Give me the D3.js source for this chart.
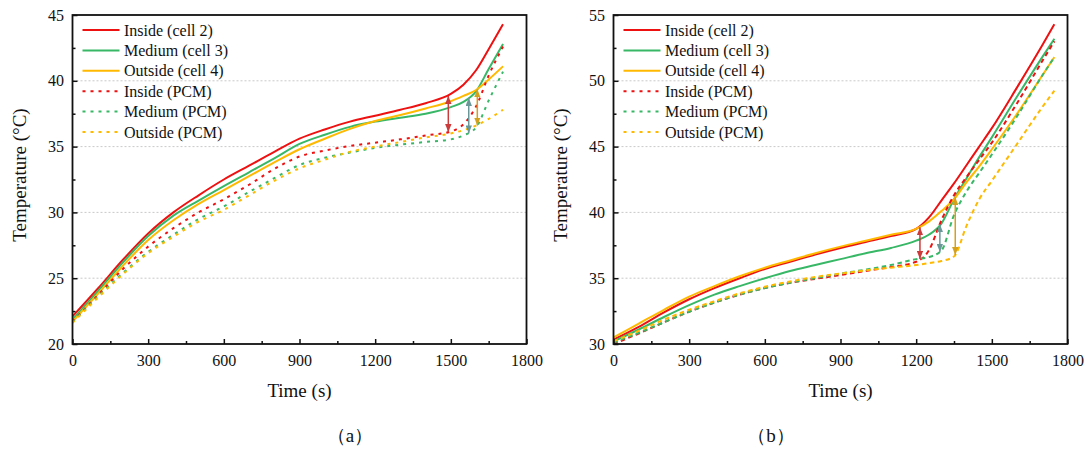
<!DOCTYPE html>
<html>
<head>
<meta charset="utf-8">
<script src="https://cdnjs.cloudflare.com/ajax/libs/d3/7.8.5/d3.min.js"></script>
<style>
body { margin:0; background:#fff; }
svg text { font-family: "Liberation Serif", Tinos, "DejaVu Serif", serif; fill:#111; }
</style>
</head>
<body>
<script>
// panel (a)
var timeA = [0,100,200,300,400,500,600,700,800,900,1000,1100,1200,1300,1400,1500,1550,1600,1650,1707];
var insideCellA  = [22.1,24.2,26.4,28.4,30.0,31.3,32.5,33.55,34.6,35.6,36.3,36.9,37.35,37.8,38.3,39.0,39.7,40.8,42.4,44.3];
var mediumCellA  = [21.85,24.0,26.2,28.2,29.75,30.9,32.0,33.05,34.1,35.2,35.9,36.5,36.9,37.2,37.5,38.0,38.4,39.2,40.9,42.8];
var outsideCellA = [21.7,23.8,25.95,27.9,29.4,30.65,31.7,32.75,33.8,34.8,35.6,36.35,36.95,37.4,37.9,38.45,38.85,39.3,40.1,41.1];
var insidePcmA   = [21.7,23.7,25.7,27.4,28.8,30.0,31.0,32.1,33.3,34.25,34.7,35.05,35.3,35.55,35.85,36.15,36.7,38.05,40.4,42.6];
var mediumPcmA   = [21.65,23.6,25.4,27.0,28.3,29.5,30.45,31.55,32.6,33.6,34.15,34.55,34.9,35.15,35.35,35.55,35.85,36.45,38.5,40.7];
var outsidePcmA  = [21.6,23.5,25.3,26.9,28.15,29.3,30.2,31.3,32.4,33.35,34.0,34.6,35.0,35.35,35.7,36.0,36.25,36.6,37.1,37.8];
var arrowsA = [[1490,38.85,36.1],[1571,38.7,36.0],[1605,39.35,36.6]];

// panel (b)
var timeB = [0,100,200,300,400,500,600,700,800,900,1000,1100,1200,1250,1300,1350,1400,1450,1500,1600,1700,1748];
var insideCellB  = [30.33,31.3,32.4,33.4,34.25,35.0,35.7,36.25,36.8,37.3,37.75,38.2,38.75,39.6,40.9,42.2,43.6,45.0,46.4,49.5,52.7,54.3];
var mediumCellB  = [30.2,31.1,32.05,32.95,33.75,34.4,35.0,35.55,36.0,36.45,36.9,37.3,37.85,38.3,39.15,41.0,42.6,44.2,45.7,48.8,51.8,53.2];
var outsideCellB = [30.5,31.55,32.6,33.6,34.4,35.15,35.8,36.35,36.9,37.4,37.85,38.3,38.75,39.3,40.1,41.0,42.3,43.5,44.8,47.5,50.4,51.8];
var insidePcmB   = [30.0,30.8,31.65,32.45,33.15,33.75,34.25,34.65,34.95,35.25,35.55,35.85,36.25,37.1,39.4,41.3,42.7,44.0,45.3,48.3,51.5,53.0];
var mediumPcmB   = [30.1,30.85,31.65,32.45,33.15,33.75,34.25,34.65,35.0,35.35,35.65,36.0,36.45,36.6,37.1,39.8,41.6,43.0,44.4,47.3,50.4,51.8];
var outsidePcmB  = [30.2,31.0,31.85,32.6,33.25,33.85,34.35,34.75,35.1,35.35,35.6,35.8,36.0,36.15,36.3,36.65,39.0,41.0,42.4,45.2,48.0,49.25];
var arrowsB = [[1215,38.87,36.46],[1294,39.1,37.0],[1355,41.15,36.76]];

var seriesNames = ["Inside (cell 2)","Medium (cell 3)","Outside (cell 4)","Inside (PCM)","Medium (PCM)","Outside (PCM)"];
var seriesColors = ["#ee1111","#38b867","#ffb900","#ee1111","#38b867","#ffb900"];
var arrowColors = ["#cc3b3b","#6a9899","#d4a11c"];
var xTicks = [0,300,600,900,1200,1500,1800];
var xMinor = [150,450,750,1050,1350,1650];
var yTicksA = [20,25,30,35,40,45];
var yTicksB = [30,35,40,45,50,55];

var serif = '"Liberation Serif", Tinos, "DejaVu Serif", serif';
var svg = d3.select("body").append("svg").attr("width",1086).attr("height",450);
var defs = svg.append("defs");
arrowColors.forEach(function(c,i){
	defs.append("marker").attr("id","head"+i).attr("viewBox","0 0 10 8")
		.attr("refX",10).attr("refY",4).attr("markerWidth",8).attr("markerHeight",6.4)
		.attr("markerUnits","userSpaceOnUse").attr("orient","auto-start-reverse")
		.append("path").attr("d","M0,0 L10,4 L0,8 z").attr("fill",c);
});

function drawPanel(id, left, time, series, yTicks, arrows, dash, tag, tagX) {
	var top = 15, bottom = 344, w = 454;
	var x = d3.scaleLinear().domain([0,1800]).range([left,left+w]);
	var y = d3.scaleLinear().domain([yTicks[0],yTicks[yTicks.length-1]]).range([bottom,top]);
	var minorY = yTicks.slice(1).map(function(v){ return v-2.5; });
	var g = svg.append("g");

	defs.append("clipPath").attr("id","clip"+id).append("rect")
		.attr("x",left).attr("y",top).attr("width",w).attr("height",bottom-top);

	// grid
	g.selectAll(".grid").data(yTicks.slice(1,-1)).enter().append("line")
		.attr("x1",left).attr("x2",left+w).attr("y1",function(d){return y(d);}).attr("y2",function(d){return y(d);})
		.attr("stroke","#c9c9c9").attr("stroke-width",1).attr("stroke-dasharray","2,2");

	var line = d3.line().curve(d3.curveMonotoneX);
	var lg = g.append("g").attr("clip-path","url(#clip"+id+")");
	series.forEach(function(vals,i){
		lg.append("path").attr("d",line(time.map(function(t,k){ return [x(t),y(vals[k])]; })))
			.attr("fill","none").attr("stroke",seriesColors[i]).attr("stroke-width",2)
			.attr("stroke-dasharray",i>2?dash:null);
	});

	arrows.forEach(function(a,i){
		g.append("line").attr("x1",x(a[0])).attr("x2",x(a[0])).attr("y1",y(a[1])).attr("y2",y(a[2]))
			.attr("stroke",arrowColors[i]).attr("stroke-width",1.5)
			.attr("marker-start","url(#head"+i+")").attr("marker-end","url(#head"+i+")");
	});

	var xa = g.append("g").attr("transform","translate(0,"+bottom+")")
		.call(d3.axisBottom(x).tickValues(xTicks).tickSize(-5).tickPadding(10.5).tickFormat(d3.format("d")));
	var xm = g.append("g").attr("transform","translate(0,"+bottom+")")
		.call(d3.axisBottom(x).tickValues(xMinor).tickSize(-3).tickFormat(""));
	var ya = g.append("g").attr("transform","translate("+left+",0)")
		.call(d3.axisLeft(y).tickValues(yTicks).tickSize(-5).tickPadding(8.5));
	var ym = g.append("g").attr("transform","translate("+left+",0)")
		.call(d3.axisLeft(y).tickValues(minorY).tickSize(-3).tickFormat(""));
	[xa,xm,ya,ym].forEach(function(a){
		a.attr("font-family",serif);
		a.select(".domain").remove();
		a.selectAll("line").attr("stroke","#111").attr("stroke-width",1.5);
		a.selectAll("text").style("font-size","16px").style("font-family",serif).attr("fill","#111");
	});

	g.append("rect").attr("x",left).attr("y",top).attr("width",w).attr("height",bottom-top)
		.attr("fill","none").attr("stroke","#111").attr("stroke-width",1.8);

	// legend
	seriesNames.forEach(function(n,i){
		var ry = 30 + i*20.4;
		g.append("line").attr("x1",left+10).attr("x2",left+47).attr("y1",ry).attr("y2",ry)
			.attr("stroke",seriesColors[i]).attr("stroke-width",2).attr("stroke-dasharray",i>2?"3,5":null);
		g.append("text").attr("x",left+51.5).attr("y",ry+5.5).style("font-size","16px").style("font-family",serif).text(n);
	});

	g.append("text").attr("x",left+w/2).attr("y",397).attr("text-anchor","middle")
		.style("font-size","19px").style("font-family",serif).text("Time (s)");
	g.append("text").attr("transform","translate("+(left-47)+",175) rotate(-90)").attr("text-anchor","middle")
		.style("font-size","19px").style("font-family",serif).text("Temperature (°C)");
	g.append("text").attr("x",tagX).attr("y",442).attr("text-anchor","middle")
		.style("font-size","19px").style("font-family",serif).text(tag);
}

drawPanel("a",72.5,timeA,[insideCellA,mediumCellA,outsideCellA,insidePcmA,mediumPcmA,outsidePcmA],yTicksA,arrowsA,"3,5","（a）",350);
drawPanel("b",613.5,timeB,[insideCellB,mediumCellB,outsideCellB,insidePcmB,mediumPcmB,outsidePcmB],yTicksB,arrowsB,"4.5,3.5","（b）",771);
</script>
</body>
</html>
